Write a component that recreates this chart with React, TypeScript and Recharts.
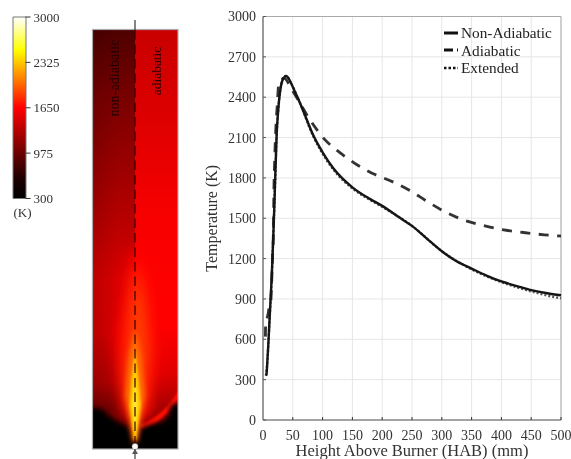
import React from "react";
import { LineChart, Line, XAxis, YAxis, CartesianGrid, Legend, ReferenceLine, BarChart, Bar } from "recharts";

const FONT = "'Liberation Serif', serif";
const INK = "#333";

const xTicks = [0, 50, 100, 150, 200, 250, 300, 350, 400, 450, 500];
const yTicks = [0, 300, 600, 900, 1200, 1500, 1800, 2100, 2400, 2700, 3000];
const colorTicks = [300, 975, 1650, 2325, 3000];
const colorRange = [{ name: "K", range: [300, 3000] }];

const nonAdiabaticHab = [5, 6, 7.5, 8.8, 10.5, 12.7, 14.5, 16, 17.5, 19, 20.5, 22, 23, 25, 27, 30, 33, 36, 39, 43, 47, 50, 61, 72.5, 84, 100, 118, 150, 180, 200, 229, 250, 274, 300, 324, 350, 375, 400, 426, 450, 477, 500];
const nonAdiabaticT = [330, 345, 450, 553, 700, 897, 1050, 1217, 1400, 1586, 1800, 2000, 2130, 2270, 2380, 2480, 2530, 2550, 2558, 2540, 2505, 2475, 2368, 2243, 2120, 1990, 1872, 1730, 1642, 1592, 1505, 1443, 1352, 1255, 1182, 1126, 1074, 1030, 996, 966, 942, 927];
const adiabaticHab = [4, 4.5, 7, 9, 11, 13, 14.6, 15.8, 17.3, 18.5, 19.5, 20.5, 22, 24, 26, 30, 36, 47, 81, 103, 129, 157, 188, 219, 248, 276, 305, 336, 370, 404, 437, 472, 500];
const adiabaticT = [620, 720, 760, 800, 860, 880, 1030, 1190, 1365, 1760, 1911, 2058, 2208, 2346, 2480, 2530, 2540, 2467, 2217, 2088, 1988, 1900, 1825, 1768, 1702, 1623, 1549, 1488, 1446, 1414, 1394, 1377, 1367];
const extendedHab = [5, 7.5, 10.5, 14.5, 19, 23, 27, 33, 39, 47, 61, 84, 100, 118, 150, 180, 200, 250, 300, 350, 400, 450, 477, 500];
const extendedT = [330, 450, 700, 1050, 1586, 2130, 2380, 2530, 2558, 2505, 2368, 2112, 1980, 1862, 1722, 1635, 1585, 1443, 1255, 1120, 1025, 956, 925, 905];

const zip = (h: number[], t: number[]) => h.map((hab, i) => ({ hab, t: t[i] }));
const nonAdiabatic = zip(nonAdiabaticHab, nonAdiabaticT);
const adiabatic = zip(adiabaticHab, adiabaticT);
const extended = zip(extendedHab, extendedT);

const legendItems = [
  { label: "Non-Adiabatic", dash: "none", w: 3 },
  { label: "Adiabatic", dash: "9 4", w: 3 },
  { label: "Extended", dash: "2.5 2", w: 2.5 },
];

function LegendBox() {
  return (
    <div style={{ fontFamily: FONT, fontSize: 15.3, color: "#222", lineHeight: "17.5px" }}>
      {legendItems.map((d) => (
        <div key={d.label} style={{ display: "flex", alignItems: "center", whiteSpace: "nowrap" }}>
          <svg width={16} height={6} style={{ marginRight: 1 }}>
            <line x1={0} x2={14} y1={3} y2={3} stroke="#111" strokeWidth={d.w} strokeDasharray={d.dash} />
          </svg>
          {d.label}
        </div>
      ))}
    </div>
  );
}

function HeatMap() {
  const x0 = 92.5, x1 = 178, y0 = 29.5, y1 = 449, cx = 135;
  return (
    <svg width={571} height={459} style={{ position: "absolute", left: 0, top: 0 }}>
      <defs>
        <clipPath id="box"><rect x={x0} y={y0} width={x1 - x0} height={y1 - y0} /></clipPath>
        <linearGradient id="leftG" x1="0" y1={y0} x2="0" y2={y1} gradientUnits="userSpaceOnUse">
          <stop offset="0" stopColor="#4e0000" />
          <stop offset="0.15" stopColor="#760000" />
          <stop offset="0.35" stopColor="#a00000" />
          <stop offset="0.6" stopColor="#d80000" />
          <stop offset="0.72" stopColor="#d40000" />
          <stop offset="0.84" stopColor="#b00000" />
          <stop offset="0.9" stopColor="#780000" />
          <stop offset="1" stopColor="#400000" />
        </linearGradient>
        <linearGradient id="rightG" x1="0" y1={y0} x2="0" y2={y1} gradientUnits="userSpaceOnUse">
          <stop offset="0" stopColor="#c80000" />
          <stop offset="0.2" stopColor="#dc0000" />
          <stop offset="0.45" stopColor="#f80000" />
          <stop offset="0.7" stopColor="#ff0000" />
          <stop offset="0.82" stopColor="#e00000" />
          <stop offset="0.9" stopColor="#a80000" />
          <stop offset="1" stopColor="#400000" />
        </linearGradient>
        <linearGradient id="edgeG" x1="0" x2="1" y1="0" y2="0">
          <stop offset="0" stopColor="#000" stopOpacity="0.12" />
          <stop offset="0.3" stopColor="#000" stopOpacity="0" />
        </linearGradient>
        <filter id="b1" x="-50%" y="-50%" width="200%" height="200%"><feGaussianBlur stdDeviation="1.2" /></filter>
        <filter id="b3" x="-50%" y="-50%" width="200%" height="200%"><feGaussianBlur stdDeviation="2.4" /></filter>
        <filter id="b7" x="-80%" y="-50%" width="260%" height="200%"><feGaussianBlur stdDeviation="7" /></filter>
      </defs>
      <g clipPath="url(#box)">
        <rect x={x0} y={y0} width={cx - x0} height={y1 - y0} fill="url(#leftG)" />
        <rect x={cx} y={y0} width={x1 - cx} height={y1 - y0} fill="url(#rightG)" />
        <rect x={x0} y={y0} width={x1 - x0} height={400} fill="url(#edgeG)" />
        <path d={`M132 250 L146 250 L158 330 L148 420 L124 420 L116 340 Z`} fill="#ff0000" filter="url(#b7)" />
        <path d={`M137 260 L145 300 L150 350 L144 410 L128 410 L124 370 L129 310 Z`} fill="#ff4000" filter="url(#b7)" />
        <path d={`M140 425 Q165 415 180 388 L180 396 Q165 422 142 430 Z`} fill="#ff1000" filter="url(#b1)" />
        <path d={`M88 407 L102 409 L110 417 L120 423 L129 428 L134 445 L136 445 L141 428 L150 425 L162 422 L169 415 L171 405 L182 403 L182 453 L88 453 Z`} fill="#000" filter="url(#b3)" />
        <path d={`M135 330 L141 355 L145 395 L137 442 L133 442 L125 395 L129 355 Z`} fill="#ff7000" filter="url(#b3)" />
        <path d={`M135 350 L138.5 378 L141 405 L136 440 L134 440 L129.5 405 L131.5 378 Z`} fill="#ffc800" filter="url(#b1)" />
        <path d={`M135 378 L137.5 405 L135.5 430 L134.5 430 L132.5 405 Z`} fill="#ffea30" filter="url(#b1)" />
      </g>
      <rect x={x0} y={y0} width={x1 - x0} height={y1 - y0} fill="none" stroke="#aaa" strokeWidth={1.2} />
      <line x1={cx} x2={cx} y1={20} y2={30} stroke="#333" strokeWidth={1.2} />
      <line x1={cx} x2={cx} y1={30} y2={444} stroke="#300" strokeWidth={1.4} strokeDasharray="9.5 5" opacity={0.85} />
      <circle cx={cx} cy={446.5} r={3} fill="#fff" stroke="#888" strokeWidth={0.5} />
      <line x1={cx} x2={cx} y1={449} y2={459} stroke="#666" strokeWidth={1.5} />
      <path d={`M${cx - 3} 454 L${cx} 449 L${cx + 3} 454 Z`} fill="#555" />
      <text transform="translate(118.5,78) rotate(-90)" textAnchor="middle" fontFamily={FONT} fontSize={14.2} fill="#200">non-adiabatic</text>
      <text transform="translate(161,71) rotate(-90)" textAnchor="middle" fontFamily={FONT} fontSize={13.5} fill="#200">adiabatic</text>
      <text x={13.5} y={217} fontFamily={FONT} fontSize={13} fill={INK}>(K)</text>
    </svg>
  );
}

function ColorBar() {
  return (
    <div style={{ position: "absolute", left: 0, top: 0 }}>
      <BarChart width={90} height={215} data={colorRange} margin={{ top: 17, bottom: 16.5, left: 13, right: 0 }} barCategoryGap={0}>
        <defs>
          <linearGradient id="heat" x1="0" y1="1" x2="0" y2="0">
            <stop offset="0" stopColor="#000" />
            <stop offset="0.12" stopColor="#200000" />
            <stop offset="0.5" stopColor="#ff0000" />
            <stop offset="0.66" stopColor="#ff8000" />
            <stop offset="0.82" stopColor="#ffff00" />
            <stop offset="1" stopColor="#ffffff" />
          </linearGradient>
        </defs>
        <XAxis dataKey="name" hide />
        <YAxis orientation="right" type="number" domain={[300, 3000]} ticks={colorTicks} width={64.5} interval={0}
          axisLine={false} tick={{ fontFamily: FONT, fontSize: 13, fill: INK }} tickLine={{ stroke: "#333" }} tickSize={5} tickMargin={3} />
        <Bar dataKey="range" fill="url(#heat)" stroke="#777" strokeWidth={1} isAnimationActive={false} />
      </BarChart>
    </div>
  );
}

export default function App() {
  return (
    <div style={{ position: "absolute", left: 0, top: 0, width: 571, height: 459, background: "#fff", overflow: "hidden", filter: "blur(0.45px)" }}>
      <HeatMap />
      <ColorBar />
      <div style={{ position: "absolute", left: 0, top: 0 }}>
        <LineChart width={571} height={459} margin={{ top: 16.5, right: 10, bottom: 0, left: 0 }}>
          <CartesianGrid stroke="#e6e6e6" strokeWidth={1} />
          <XAxis dataKey="hab" type="number" domain={[0, 500]} ticks={xTicks} interval={0} height={39}
            axisLine={{ stroke: "#555", strokeWidth: 1 }} tickLine={{ stroke: "#333" }} tickSize={-3} tickMargin={13}
            tick={{ fontFamily: FONT, fontSize: 14, fill: INK }}
            label={{ value: "Height Above Burner (HAB) (mm)", position: "insideBottom", offset: 3, style: { fontFamily: FONT, fontSize: 16.5, fill: INK } }} />
          <YAxis type="number" domain={[0, 3000]} ticks={yTicks} interval={0} width={263}
            axisLine={{ stroke: "#999", strokeWidth: 2 }} tickLine={{ stroke: "#555" }} tickSize={-3} tickMargin={10}
            tick={{ fontFamily: FONT, fontSize: 14, fill: INK }}
            label={{ value: "Temperature (K)", angle: -90, position: "insideLeft", dx: 206, dy: 0, style: { fontFamily: FONT, fontSize: 16, fill: INK, textAnchor: "middle" } }} />
          <ReferenceLine x={500} stroke="#aaa" strokeWidth={1} />
          <ReferenceLine y={3000} stroke="#aaa" strokeWidth={1} />
          <Line data={extended} dataKey="t" type="monotone" name="Extended" stroke="#555" strokeWidth={2.4} strokeDasharray="2 2" dot={false} isAnimationActive={false} />
          <Line data={adiabatic} dataKey="t" type="monotone" name="Adiabatic" stroke="#333" strokeWidth={2.8} strokeDasharray="10 8.5" dot={false} isAnimationActive={false} />
          <Line data={nonAdiabatic} dataKey="t" type="monotone" name="Non-Adiabatic" stroke="#151515" strokeWidth={2.4} dot={false} isAnimationActive={false} />
          <Legend content={<LegendBox />} verticalAlign="middle" align="center" layout="vertical" wrapperStyle={{ position: "absolute", left: 444, top: 24, width: 120 }} />
        </LineChart>
      </div>
    </div>
  );
}
